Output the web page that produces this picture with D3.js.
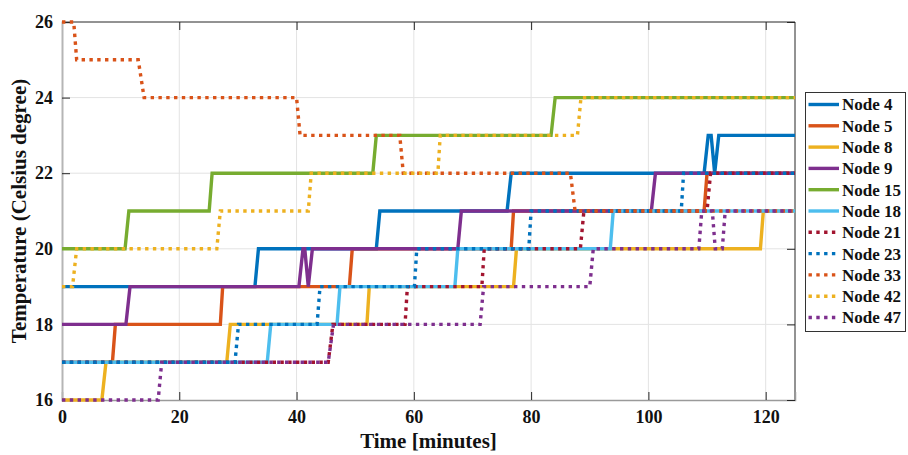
<!DOCTYPE html>
<html>
<head>
<meta charset="utf-8">
<script src="https://cdn.jsdelivr.net/npm/d3@7"></script>
<style>
  html, body { margin: 0; padding: 0; background: #fff; }
  svg { display: block; }
  svg text { font-family: "Liberation Serif", "DejaVu Serif", serif !important; font-weight: bold; fill: #111; }
</style>
</head>
<body>
<svg id="chart" width="908" height="455"></svg>
<script>
// ---- Data (corner points of each step series: [time in minutes, temperature]) ----
const node4  = [[0,19],[32.9,19],[33.5,20],[53.6,20],[54.2,21],[75.9,21],[76.6,22],[109.5,22],[110.2,23],[110.7,23],[111.3,22],[112,23],[125,23]];
const node5  = [[0,17],[8.6,17],[9.1,18],[27,18],[27.4,19],[49,19],[49.5,20],[76.6,20],[77,21],[109.5,21],[110,22],[125,22]];
const node8  = [[0,16],[6.8,16],[7.5,17],[28.1,17],[28.7,18],[52,18],[52.4,19],[77,19],[77.5,20],[119.1,20],[119.6,21],[125,21]];
const node9  = [[0,18],[10.9,18],[11.6,19],[40.4,19],[41.1,20],[41.4,20],[42,19],[42.7,20],[67.5,20],[68.1,21],[100.5,21],[101.2,22],[125,22]];
const node15 = [[0,20],[10.75,20],[11.4,21],[25.1,21],[25.6,22],[53,22],[53.6,23],[83.4,23],[84.1,24],[125,24]];
const node18 = [[0,17],[35,17],[35.6,18],[46.9,18],[47.4,19],[67,19],[67.5,20],[93.5,20],[94,21],[125,21]];
const node21 = [[0,17],[45.4,17],[46.2,18],[58.5,18],[58.9,19],[71.6,19],[72,20],[88.4,20],[89,21],[110,21],[110.6,22],[125,22]];
const node23 = [[0,17],[29.5,17],[30.1,18],[43.5,18],[44,19],[60.1,19],[60.5,20],[79.6,20],[80,21],[105.6,21],[106,22],[125,22]];
const node33 = [[0,26],[2,26],[2.5,25],[13,25],[14,24],[40,24],[40.6,23],[57.6,23],[58.2,22],[86.7,22],[87.5,21],[125,21]];
const node42 = [[0,19],[1.8,19],[2.5,20],[26.4,20],[27,21],[42,21],[42.5,22],[64.1,22],[64.5,23],[87.9,23],[88.5,24],[125,24]];
const node47 = [[0,16],[16.4,16],[17,17],[45.4,17],[46.3,18],[71.3,18],[71.9,19],[90,19],[90.6,20],[108.6,20],[109.1,21],[110.9,21],[111.4,20],[112.6,20],[113.1,21],[125,21]];

const seriesNames  = ["Node 4","Node 5","Node 8","Node 9","Node 15","Node 18","Node 21","Node 23","Node 33","Node 42","Node 47"];
const seriesData   = [node4, node5, node8, node9, node15, node18, node21, node23, node33, node42, node47];
const seriesColors = ["#0072BD","#D95319","#EDB120","#7E2F8E","#77AC30","#4DBEEE","#A2142F","#0072BD","#D95319","#EDB120","#7E2F8E"];
const seriesDotted = [false,false,false,false,false,false,true,true,true,true,true];

const xTicks = [0,20,40,60,80,100,120];
const yTicks = [16,18,20,22,24,26];
const xDomain = [0,125];
const yDomain = [16,26];
const xLabel = "Time [minutes]";
const yLabel = "Temperature (Celsius degree)";

// ---- Layout ----
const svg = d3.select("#chart");
const L = 62, R = 795, T = 22, B = 400;
const x = d3.scaleLinear().domain(xDomain).range([L, R]);
const y = d3.scaleLinear().domain(yDomain).range([B, T]);
const SERIF = '"Liberation Serif", "DejaVu Serif", serif';

// grid
const grid = svg.append("g");
grid.selectAll("line.gx").data(xTicks.filter(d => d > 0)).join("line")
  .attr("x1", d => x(d)).attr("x2", d => x(d)).attr("y1", T).attr("y2", B)
  .attr("stroke", "#e3e3e3").attr("stroke-width", 1);
grid.selectAll("line.gy").data(yTicks.filter(d => d > 16 && d < 26)).join("line")
  .attr("x1", L).attr("x2", R).attr("y1", d => y(d)).attr("y2", d => y(d))
  .attr("stroke", "#e3e3e3").attr("stroke-width", 1);

// box: top and right dark, left and bottom grey
svg.append("line").attr("x1", L).attr("x2", R).attr("y1", T).attr("y2", T).attr("stroke", "#262626").attr("stroke-width", 1);
svg.append("line").attr("x1", R).attr("x2", R).attr("y1", T).attr("y2", B).attr("stroke", "#262626").attr("stroke-width", 1);

// axes via d3
const xAxisB = d3.axisBottom(x).tickValues(xTicks).tickSize(-8).tickPadding(9).tickFormat(d3.format("d"));
const gxB = svg.append("g").attr("transform", `translate(0,${B})`).call(xAxisB).attr("font-family", SERIF);
gxB.select(".domain").attr("stroke", "#9a9a9a").attr("stroke-width", 1.5);
gxB.selectAll(".tick line").attr("stroke", "#262626");
gxB.selectAll(".tick text").attr("font-size", 18).style("font-family", SERIF).style("font-weight", "bold").attr("fill", "#111").attr("dy", "0.78em");

const xAxisT = d3.axisTop(x).tickValues(xTicks).tickSize(-8).tickFormat("");
const gxT = svg.append("g").attr("transform", `translate(0,${T})`).call(xAxisT);
gxT.select(".domain").remove();
gxT.selectAll(".tick line").attr("stroke", "#262626");

const yAxisL = d3.axisLeft(y).tickValues(yTicks).tickSize(-8).tickPadding(9).tickFormat(d3.format("d"));
const gyL = svg.append("g").attr("transform", `translate(${L},0)`).call(yAxisL).attr("font-family", SERIF);
gyL.select(".domain").attr("stroke", "#b5b5b5").attr("stroke-width", 2);
gyL.selectAll(".tick line").attr("stroke", "#262626");
gyL.selectAll(".tick text").attr("font-size", 18).style("font-family", SERIF).style("font-weight", "bold").attr("fill", "#111");

const yAxisR = d3.axisRight(y).tickValues(yTicks).tickSize(-8).tickFormat("");
const gyR = svg.append("g").attr("transform", `translate(${R},0)`).call(yAxisR);
gyR.select(".domain").remove();
gyR.selectAll(".tick line").attr("stroke", "#262626");

// series
const line = d3.line().x(d => x(d[0])).y(d => y(d[1]));
const plot = svg.append("g");
seriesData.forEach((data, i) => {
  plot.append("path")
    .attr("d", line(data))
    .attr("fill", "none")
    .attr("stroke", seriesColors[i])
    .attr("stroke-width", 3.4)
    .attr("stroke-linejoin", "miter")
    .attr("stroke-dasharray", seriesDotted[i] ? "3.4,4.4" : null);
});

// axis labels
svg.append("text").attr("x", (L + R) / 2).attr("y", 448).attr("text-anchor", "middle")
  .style("font-family", SERIF).attr("font-size", 21).text(xLabel);
svg.append("text").attr("transform", `translate(26,${(T + B) / 2}) rotate(-90)`).attr("text-anchor", "middle")
  .style("font-family", SERIF).attr("font-size", 21).text(yLabel);

// legend
const lg = svg.append("g");
lg.append("rect").attr("x", 805.5).attr("y", 92.5).attr("width", 100).attr("height", 239)
  .attr("fill", "#fff").attr("stroke", "#333").attr("stroke-width", 1);
const rowY = d3.scaleLinear().domain([0, seriesNames.length - 1]).range([104.5, 317.5]);
seriesNames.forEach((name, i) => {
  lg.append("line").attr("x1", 808.5).attr("x2", 839).attr("y1", rowY(i)).attr("y2", rowY(i))
    .attr("stroke", seriesColors[i]).attr("stroke-width", 3.4)
    .attr("stroke-dasharray", seriesDotted[i] ? "3.4,4.4" : null);
  lg.append("text").attr("x", 842).attr("y", rowY(i)).attr("dy", "0.35em")
    .style("font-family", SERIF).attr("font-size", 17).text(name);
});
</script>
</body>
</html>
